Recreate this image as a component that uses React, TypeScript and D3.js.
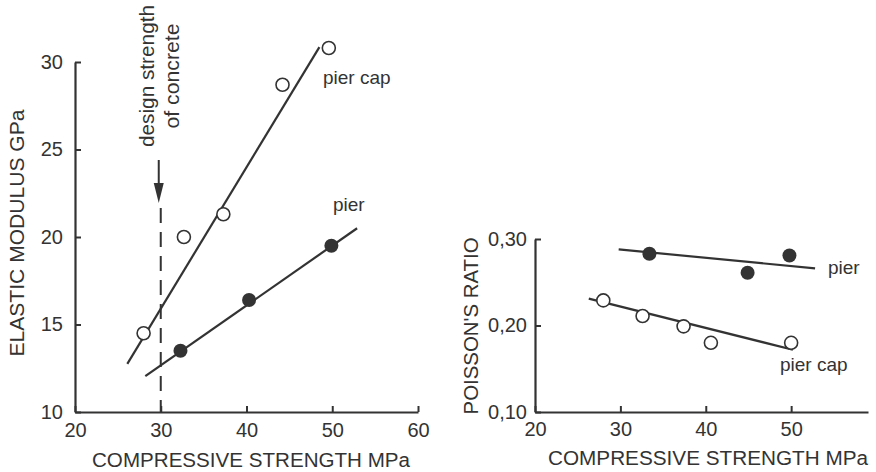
import React, { useEffect, useRef } from 'react';
import * as d3 from 'd3';

// left panel: elastic modulus vs compressive strength
const capStrengthL = [28.0, 32.7, 37.3, 44.2, 49.6];
const capModulus = [14.5, 20.0, 21.3, 28.7, 30.8];
const pierStrengthL = [32.3, 40.3, 49.9];
const pierModulus = [13.5, 16.4, 19.5];
const capFitL = [[26.1, 12.75], [48.5, 30.85]];
const pierFitL = [[28.2, 12.05], [52.9, 20.5]];
const leftXTicks = [20, 30, 40, 50, 60];
const leftYTicks = [10, 15, 20, 25, 30];
const designStrength = 30;

// right panel: poisson's ratio vs compressive strength
const pierStrengthR = [33.4, 44.9, 49.8];
const pierPoisson = [0.283, 0.261, 0.281];
const capStrengthR = [28.0, 32.6, 37.4, 40.6, 50.0];
const capPoisson = [0.229, 0.211, 0.199, 0.180, 0.180];
const pierFitR = [[29.8, 0.288], [52.8, 0.266]];
const capFitR = [[26.3, 0.231], [50.2, 0.172]];
const rightXTicks = [20, 30, 40, 50];
const rightYTicks = [0.1, 0.2, 0.3];

const INK = '#333';
const FONT = '"Liberation Sans", Arial, sans-serif';

const App = () => {
  const svgRef = useRef<SVGSVGElement>(null);

  useEffect(() => {
    const svg = d3.select(svgRef.current);
    svg.selectAll('*').remove();

    const styleAxis = (g: any) => {
      g.select('.domain').attr('stroke', INK).attr('stroke-width', 2.2);
      g.selectAll('.tick line').attr('stroke', INK).attr('stroke-width', 2);
      g.selectAll('.tick text').attr('fill', INK).attr('font-size', 20).attr('font-family', FONT);
    };

    const line = d3.line<number[]>();

    // ---------- left panel ----------
    const xL = d3.scaleLinear().domain([20, 60]).range([75, 418]);
    const yL = d3.scaleLinear().domain([10, 30]).range([412, 62]);

    const gxL = svg.append('g').attr('transform', `translate(0,${yL(10)})`)
      .call(d3.axisBottom(xL).tickValues(leftXTicks).tickSize(-6).tickSizeOuter(0).tickPadding(11));
    styleAxis(gxL);
    const gyL = svg.append('g').attr('transform', `translate(${xL(20)},0)`)
      .call(d3.axisLeft(yL).tickValues(leftYTicks).tickSize(-6).tickSizeOuter(0).tickPadding(12));
    styleAxis(gyL);

    // design strength marker
    svg.append('line')
      .attr('x1', xL(designStrength)).attr('x2', xL(designStrength))
      .attr('y1', 208).attr('y2', yL(10))
      .attr('stroke', INK).attr('stroke-width', 2).attr('stroke-dasharray', '15,9');
    const ax = xL(designStrength) - 2;
    svg.append('line')
      .attr('x1', ax).attr('x2', ax)
      .attr('y1', 160).attr('y2', 188)
      .attr('stroke', INK).attr('stroke-width', 2);
    svg.append('path')
      .attr('d', `M${ax - 5},183 L${ax + 5},183 L${ax},203 Z`)
      .attr('fill', INK);
    const note = svg.append('g').attr('transform', 'translate(148,76) rotate(-90)')
      .attr('font-family', FONT).attr('font-size', 20).attr('fill', INK).attr('text-anchor', 'middle');
    note.append('text').attr('x', 0).attr('y', 6)
      .attr('textLength', 142).attr('lengthAdjust', 'spacingAndGlyphs').text('design strength');
    note.append('text').attr('x', 0).attr('y', 31)
      .attr('textLength', 105).attr('lengthAdjust', 'spacingAndGlyphs').text('of concrete');

    svg.append('path').attr('d', line(capFitL.map(d => [xL(d[0]), yL(d[1])])))
      .attr('stroke', INK).attr('stroke-width', 2.2).attr('fill', 'none');
    svg.append('path').attr('d', line(pierFitL.map(d => [xL(d[0]), yL(d[1])])))
      .attr('stroke', INK).attr('stroke-width', 2.2).attr('fill', 'none');

    svg.append('g').selectAll('circle').data(capStrengthL).join('circle')
      .attr('cx', d => xL(d)).attr('cy', (d, i) => yL(capModulus[i])).attr('r', 6.5)
      .attr('fill', '#fff').attr('stroke', INK).attr('stroke-width', 1.6);
    svg.append('g').selectAll('circle').data(pierStrengthL).join('circle')
      .attr('cx', d => xL(d)).attr('cy', (d, i) => yL(pierModulus[i])).attr('r', 7)
      .attr('fill', INK);

    svg.append('text').attr('x', 323).attr('y', 84).text('pier cap')
      .attr('font-family', FONT).attr('font-size', 19).attr('fill', INK);
    svg.append('text').attr('x', 333).attr('y', 211).text('pier')
      .attr('font-family', FONT).attr('font-size', 19).attr('fill', INK);

    svg.append('text').attr('transform', 'translate(24,233) rotate(-90)')
      .attr('text-anchor', 'middle').attr('font-family', FONT).attr('font-size', 21).attr('fill', INK)
      .attr('textLength', 247).attr('lengthAdjust', 'spacingAndGlyphs')
      .text('ELASTIC MODULUS GPa');
    svg.append('text').attr('x', 251).attr('y', 467)
      .attr('text-anchor', 'middle').attr('font-family', FONT).attr('font-size', 20).attr('fill', INK)
      .attr('textLength', 318).attr('lengthAdjust', 'spacingAndGlyphs')
      .text('COMPRESSIVE STRENGTH MPa');

    // ---------- right panel ----------
    const xR = d3.scaleLinear().domain([20, 59]).range([535, 868]);
    const yR = d3.scaleLinear().domain([0.1, 0.3]).range([412, 239]);

    const gxR = svg.append('g').attr('transform', `translate(0,${yR(0.1)})`)
      .call(d3.axisBottom(xR).tickValues(rightXTicks).tickSize(-6).tickSizeOuter(0).tickPadding(10));
    styleAxis(gxR);
    const gyR = svg.append('g').attr('transform', `translate(${xR(20)},0)`)
      .call(d3.axisLeft(yR).tickValues(rightYTicks).tickSize(-6).tickSizeOuter(0).tickPadding(8)
        .tickFormat(d => d3.format('.2f')(d as number).replace('.', ',')));
    styleAxis(gyR);

    svg.append('path').attr('d', line(pierFitR.map(d => [xR(d[0]), yR(d[1])])))
      .attr('stroke', INK).attr('stroke-width', 2.2).attr('fill', 'none');
    svg.append('path').attr('d', line(capFitR.map(d => [xR(d[0]), yR(d[1])])))
      .attr('stroke', INK).attr('stroke-width', 2.2).attr('fill', 'none');

    svg.append('g').selectAll('circle').data(capStrengthR).join('circle')
      .attr('cx', d => xR(d)).attr('cy', (d, i) => yR(capPoisson[i])).attr('r', 6.5)
      .attr('fill', '#fff').attr('stroke', INK).attr('stroke-width', 1.6);
    svg.append('g').selectAll('circle').data(pierStrengthR).join('circle')
      .attr('cx', d => xR(d)).attr('cy', (d, i) => yR(pierPoisson[i])).attr('r', 7)
      .attr('fill', INK);

    svg.append('text').attr('x', 828).attr('y', 274).text('pier')
      .attr('font-family', FONT).attr('font-size', 19).attr('fill', INK);
    svg.append('text').attr('x', 780).attr('y', 371).text('pier cap')
      .attr('font-family', FONT).attr('font-size', 19).attr('fill', INK);

    svg.append('text').attr('transform', 'translate(478,326) rotate(-90)')
      .attr('text-anchor', 'middle').attr('font-family', FONT).attr('font-size', 20).attr('fill', INK)
      .attr('textLength', 177).attr('lengthAdjust', 'spacingAndGlyphs')
      .text("POISSON'S RATIO");
    svg.append('text').attr('x', 708).attr('y', 465)
      .attr('text-anchor', 'middle').attr('font-family', FONT).attr('font-size', 20).attr('fill', INK)
      .attr('textLength', 320).attr('lengthAdjust', 'spacingAndGlyphs')
      .text('COMPRESSIVE STRENGTH MPa');
  }, []);

  return (
    <svg ref={svgRef} width={876} height={472}
      style={{ position: 'absolute', left: 0, top: 0, background: '#fff' }} />
  );
};

export default App;
